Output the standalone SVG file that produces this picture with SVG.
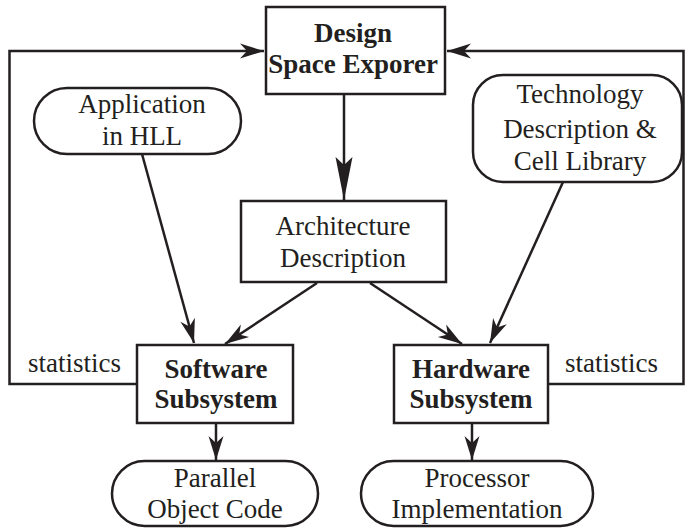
<svg xmlns="http://www.w3.org/2000/svg" width="685" height="528" viewBox="0 0 685 528">
<style>
.box{fill:#fff;stroke:#231f20;stroke-width:2.5}
.ln{fill:none;stroke:#231f20;stroke-width:2.5}
.t{font-family:"Liberation Serif","Times New Roman",serif;font-size:27px;fill:#231f20;text-anchor:middle}
.b{font-weight:bold}
.s{text-anchor:start}
</style>
<defs>
<marker id="ah" markerUnits="userSpaceOnUse" markerWidth="26" markerHeight="18" viewBox="-25 -9 26 18" refX="0" refY="0" orient="auto">
<path d="M0,0 L-24,-7.5 L-17,0 L-24,7.5 Z" fill="#231f20"/>
</marker>
<marker id="ahl" markerUnits="userSpaceOnUse" markerWidth="46" markerHeight="20" viewBox="-45 -10 46 20" refX="0" refY="0" orient="auto">
<path d="M0,0 L-43,-8.5 L-35,0 L-43,8.5 Z" fill="#231f20"/>
</marker>
</defs>
<rect width="685" height="528" fill="#fff"/>
<g id="connectors">
<path class="ln" d="M137,384 H9.5 V51 H264" marker-end="url(#ah)"/>
<path class="ln" d="M548,384 H683.5 V51 H447" marker-end="url(#ah)"/>
<path class="ln" d="M344,94 V200" marker-end="url(#ahl)"/>
<path class="ln" d="M142,154 L194,343" marker-end="url(#ah)"/>
<path class="ln" d="M317,283 L225,344" marker-end="url(#ah)"/>
<path class="ln" d="M370,283 L462,344" marker-end="url(#ah)"/>
<path class="ln" d="M563,182 L490,343" marker-end="url(#ah)"/>
<path class="ln" d="M216,423 V460" marker-end="url(#ah)"/>
<path class="ln" d="M472,423 V460" marker-end="url(#ah)"/>
<text class="t s" x="28" y="372">statistics</text>
<text class="t s" x="565" y="372">statistics</text>
</g>
<g id="design">
<rect class="box" x="266" y="7" width="179" height="87"/>
<text class="t b" x="353" y="42">Design</text>
<text class="t b" x="353" y="73">Space Exporer</text>
</g>
<g id="application">
<rect class="box" x="34" y="88" width="207" height="66" rx="33"/>
<text class="t" x="142" y="113">Application</text>
<text class="t" x="142" y="145">in HLL</text>
</g>
<g id="technology">
<rect class="box" x="473" y="75" width="209" height="107" rx="30"/>
<text class="t" x="580" y="103">Technology</text>
<text class="t" x="580" y="138">Description &amp;</text>
<text class="t" x="580" y="170">Cell Library</text>
</g>
<g id="architecture">
<rect class="box" x="241" y="201" width="205" height="81"/>
<text class="t" x="343" y="235">Architecture</text>
<text class="t" x="343" y="267">Description</text>
</g>
<g id="software">
<rect class="box" x="137" y="345" width="156" height="78"/>
<text class="t b" x="216" y="378">Software</text>
<text class="t b" x="216" y="408">Subsystem</text>
</g>
<g id="hardware">
<rect class="box" x="394" y="345" width="154" height="78"/>
<text class="t b" x="471" y="378">Hardware</text>
<text class="t b" x="471" y="408">Subsystem</text>
</g>
<g id="parallel">
<rect class="box" x="112" y="461" width="206" height="65" rx="32.5"/>
<text class="t" x="215" y="487">Parallel</text>
<text class="t" x="215" y="518">Object Code</text>
</g>
<g id="processor">
<rect class="box" x="361" y="461" width="232" height="65" rx="32.5"/>
<text class="t" x="477" y="487">Processor</text>
<text class="t" x="477" y="518">Implementation</text>
</g>
</svg>
